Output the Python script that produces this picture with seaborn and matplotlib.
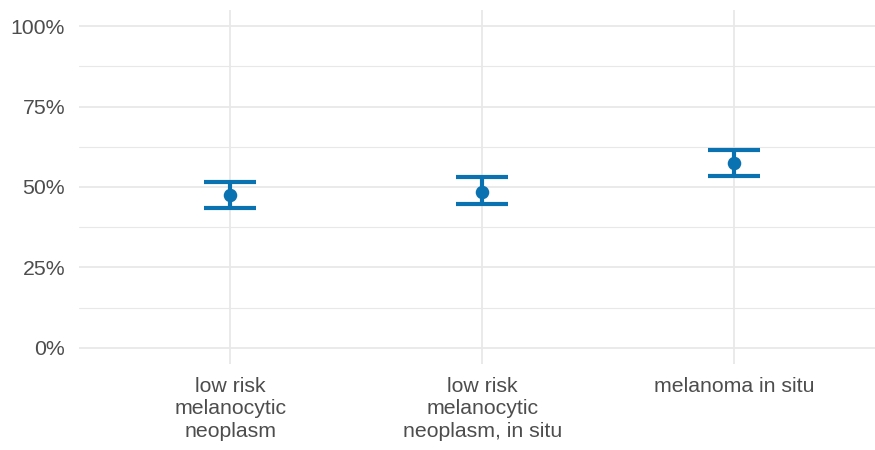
import numpy as np
import pandas as pd
import matplotlib
matplotlib.use("Agg")
import matplotlib.pyplot as plt
import seaborn as sns
from matplotlib.ticker import FixedLocator

categories = ["low risk\nmelanocytic\nneoplasm",
              "low risk\nmelanocytic\nneoplasm, in situ",
              "melanoma in situ"]
estimate = [0.475, 0.485, 0.574]
lower = [0.434, 0.447, 0.534]
upper = [0.516, 0.532, 0.615]
y_ticks = [0.0, 0.25, 0.5, 0.75, 1.0]
y_tick_labels = ["0%", "25%", "50%", "75%", "100%"]

df = pd.DataFrame({"category": categories, "estimate": estimate,
                   "lower": lower, "upper": upper})

sns.set_theme(style="whitegrid")
plt.rcParams["font.family"] = ["Liberation Sans", "DejaVu Sans"]

color = "#0a72b0"
grid_color = "#e8e8e8"
text_color = "#4d4d4d"

fig = plt.figure(figsize=(8.75, 4.5), dpi=100)
ax = fig.add_axes([79 / 875, 1 - 364 / 450, 1 - 79 / 875, 354 / 450])

x = np.arange(len(df))
ax.errorbar(x, df["estimate"],
            yerr=[df["estimate"] - df["lower"], df["upper"] - df["estimate"]],
            fmt="none", ecolor=color, elinewidth=3.0, capsize=18.5,
            capthick=3.0, zorder=3)
sns.scatterplot(x=x, y=df["estimate"], ax=ax, color=color, s=95,
                edgecolor=color, linewidth=0, zorder=4)

ax.set_xlim(-0.6, -0.6 + 796 / 252)
ax.set_ylim(-0.05, 1.05)
ax.set_xticks(x)
ax.set_xticklabels(df["category"], fontsize=15.3, color=text_color,
                   linespacing=1.25)
ax.yaxis.set_major_locator(FixedLocator(y_ticks))
ax.set_yticklabels(y_tick_labels, fontsize=15.3, color=text_color)
ax.yaxis.set_minor_locator(FixedLocator([0.125, 0.375, 0.625, 0.875]))

ax.grid(True, which="major", color=grid_color, linewidth=1.3)
ax.grid(True, which="minor", axis="y", color=grid_color, linewidth=0.8)
ax.set_axisbelow(True)
for s in ax.spines.values():
    s.set_visible(False)
ax.tick_params(axis="both", which="both", length=0)
ax.tick_params(axis="x", pad=9)
ax.tick_params(axis="y", pad=10)
ax.set_xlabel("")
ax.set_ylabel("")
ax.set_facecolor("white")
fig.patch.set_facecolor("white")

fig.savefig("out.png", dpi=100)
